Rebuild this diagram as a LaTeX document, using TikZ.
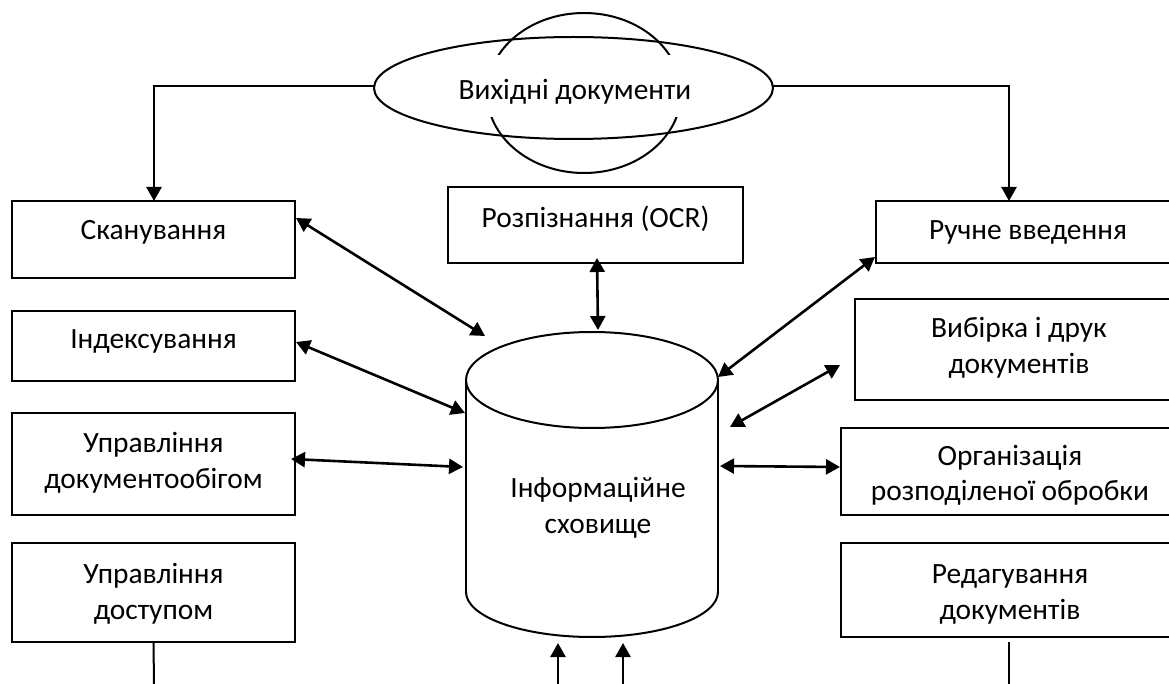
\documentclass[tikz,border=0pt]{standalone}
\usepackage{fontspec}
\setmainfont{Carlito}
\usetikzlibrary{arrows.meta,shapes.geometric}
\begin{document}
\begin{tikzpicture}[x=0.5pt,y=-0.5pt,
  box/.style={draw, line width=1pt, rectangle, inner sep=0pt},
  lbl/.style={anchor=base, inner sep=0pt, font=\fontsize{14.7}{18}\selectfont},
  arr/.style={line width=1.3pt, -{Triangle[length=7pt,width=7.5pt]}},
  darr/.style={line width=1.3pt, {Triangle[length=7pt,width=7.5pt]}-{Triangle[length=7pt,width=7.5pt]}},
  thin/.style={line width=1pt}
]
\useasboundingbox (0,0) rectangle (1169,684);

% ---- source documents (ellipse with arcs) ----
\begin{scope}
  \clip (0,0) rectangle (1169,55);
  \draw[thin] (584,93) ellipse [x radius=48.5pt, y radius=40pt];
\end{scope}
\begin{scope}
  \clip (0,118) rectangle (1169,200);
  \draw[thin] (584,93) ellipse [x radius=48.5pt, y radius=40pt];
\end{scope}
\node[draw, thin, ellipse, inner sep=0pt, minimum width=199.5pt, minimum height=51pt] (src) at (573.5,88) {};
\node[lbl] (tsrc) at (575,100) {Вихідні документи};

% ---- left boxes ----
\node[box, minimum width=141.5pt, minimum height=38.5pt] (scan) at (153.5,239.5) {};
\node[lbl] (tscan) at (153.5,240) {Сканування};
\node[box, minimum width=141.5pt, minimum height=35pt] (index) at (153.5,346) {};
\node[lbl] (tindex) at (153.5,349) {Індексування};
\node[box, minimum width=141.5pt, minimum height=51pt] (flow) at (153.5,464) {};
\node[lbl] (tflowa) at (153.5,453) {Управління};
\node[lbl] (tflowb) at (153.5,488) {документообігом};
\node[box, minimum width=141.5pt, minimum height=49.5pt] (access) at (153.5,592.5) {};
\node[lbl] (taccessa) at (153.5,583) {Управління};
\node[lbl] (taccessb) at (153.5,619) {доступом};

% ---- centre ----
\node[box, minimum width=147.5pt, minimum height=38pt] (ocr) at (595.5,225) {};
\node[lbl] (tocr) at (595.5,228) {Розпізнання (OCR)};

% cylinder
\draw[thin] (592,380) ellipse [x radius=63pt, y radius=24pt];
\draw[thin] (466,380) -- (466,592);
\draw[thin] (718,380) -- (718,592);
\begin{scope}
  \clip (400,592) rectangle (800,660);
  \draw[thin] (592,592) ellipse [x radius=63pt, y radius=22.5pt];
\end{scope}
\node[inner sep=0pt, minimum width=126pt, minimum height=152.5pt] (store) at (592,484.5) {};
\node[lbl] (tstorea) at (598,498) {Інформаційне};
\node[lbl] (tstoreb) at (598,534) {сховище};

% ---- right boxes ----
\node[box, minimum width=152pt, minimum height=31pt] (manual) at (1028,232) {};
\node[lbl] (tmanual) at (1028,240) {Ручне введення};
\node[box, minimum width=164pt, minimum height=50.5pt] (select) at (1019,349.5) {};
\node[lbl] (tselecta) at (1019,338) {Вибірка і друк};
\node[lbl] (tselectb) at (1019,374) {документів};
\node[box, minimum width=169pt, minimum height=43.5pt] (org) at (1010,471.5) {};
\node[lbl] (torga) at (1010,466) {Організація};
\node[lbl] (torgb) at (1010,501) {розподіленої обробки};
\node[box, minimum width=169pt, minimum height=47pt] (edit) at (1010,590) {};
\node[lbl] (tedita) at (1010,583) {Редагування};
\node[lbl] (teditb) at (1010,619) {документів};

% ---- connector end points ----
\coordinate (a1s) at (296,218);  \coordinate (a1e) at (485,336);
\coordinate (a2s) at (296,342);  \coordinate (a2e) at (465,413);
\coordinate (a3s) at (291,459);  \coordinate (a3e) at (463,467);
\coordinate (a4s) at (597,258);  \coordinate (a4e) at (598,330);
\coordinate (a5s) at (875,257);  \coordinate (a5e) at (718,377);
\coordinate (a6s) at (840,365);  \coordinate (a6e) at (730,427);
\coordinate (a7s) at (720,466);  \coordinate (a7e) at (840,467);
\coordinate (b1s) at (558,684);  \coordinate (b1e) at (558,643);
\coordinate (b2s) at (623,684);  \coordinate (b2e) at (623,643);
\coordinate (accEnd) at (154,684);
\coordinate (editS) at (1009,642); \coordinate (editEnd) at (1009,684);
\coordinate (lc) at (154,86); \coordinate (rc) at (1009,86);
\coordinate (srcL) at (374,86); \coordinate (srcR) at (773,86);
\coordinate (scanTop) at (154,201); \coordinate (manTop) at (1009,201);

% ---- connectors ----
\draw[arr] (srcL) -- (lc) -- (scanTop);
\draw[arr] (srcR) -- (rc) -- (manTop);
\draw[darr] (a1s) -- (a1e);
\draw[darr] (a2s) -- (a2e);
\draw[darr] (a3s) -- (a3e);
\draw[darr] (a4s) -- (a4e);
\draw[darr] (a5s) -- (a5e);
\draw[darr] (a6s) -- (a6e);
\draw[darr] (a7s) -- (a7e);
\draw[arr] (b1s) -- (b1e);
\draw[arr] (b2s) -- (b2e);
\draw[thin] (access.south) -- (accEnd);
\draw[thin] (editS) -- (editEnd);
\end{tikzpicture}
\end{document}
